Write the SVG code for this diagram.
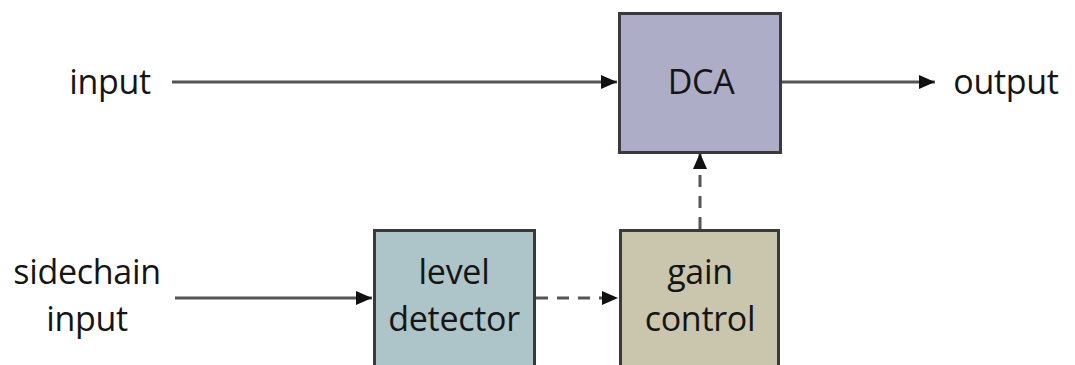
<svg xmlns="http://www.w3.org/2000/svg" width="1075" height="365" viewBox="0 0 1075 365">
<style>
.box{stroke:#3a3a3a;stroke-width:3}
.t{font-family:"Open Sans","Noto Sans",sans-serif;font-size:34px;fill:#151515;text-anchor:middle;letter-spacing:-0.3px}
.ln{stroke:#555;stroke-width:3;fill:none}
.dash{stroke-dasharray:12 9}
</style>
<defs>
<marker id="ah2" viewBox="0 0 10 10" refX="10" refY="5" markerWidth="16" markerHeight="14" markerUnits="userSpaceOnUse" orient="auto" preserveAspectRatio="none">
<path d="M0,0 L10,5 L0,10 z" fill="#111"/>
</marker>
</defs>
<rect width="1075" height="365" fill="#fff"/>
<g id="connectors">
<line class="ln" x1="172" y1="82" x2="617" y2="82" marker-end="url(#ah2)"/>
<line class="ln" x1="781" y1="82" x2="935" y2="82" marker-end="url(#ah2)"/>
<line class="ln" x1="175" y1="298" x2="372" y2="298" marker-end="url(#ah2)"/>
<line class="ln dash" x1="536" y1="298" x2="618" y2="298" marker-end="url(#ah2)"/>
<line class="ln dash" x1="700" y1="229" x2="700" y2="153" marker-end="url(#ah2)"/>
</g>
<g id="input-label"><text class="t" x="110" y="94">input</text></g>
<g id="output-label"><text class="t" x="1006" y="94">output</text></g>
<g id="sidechain-label"><text class="t" x="87" y="284">sidechain</text><text class="t" x="87" y="331">input</text></g>
<g id="dca"><rect class="box" x="619.5" y="13.5" width="161" height="139" fill="#adadc8"/><text class="t" x="701" y="94">DCA</text></g>
<g id="level-detector"><rect class="box" x="374.5" y="230.5" width="160" height="145" fill="#adc4c9"/><text class="t" x="454" y="284">level</text><text class="t" x="454" y="331">detector</text></g>
<g id="gain-control"><rect class="box" x="620.5" y="230.5" width="158" height="145" fill="#c9c6ad"/><text class="t" x="700" y="284">gain</text><text class="t" x="700" y="331">control</text></g>
</svg>
